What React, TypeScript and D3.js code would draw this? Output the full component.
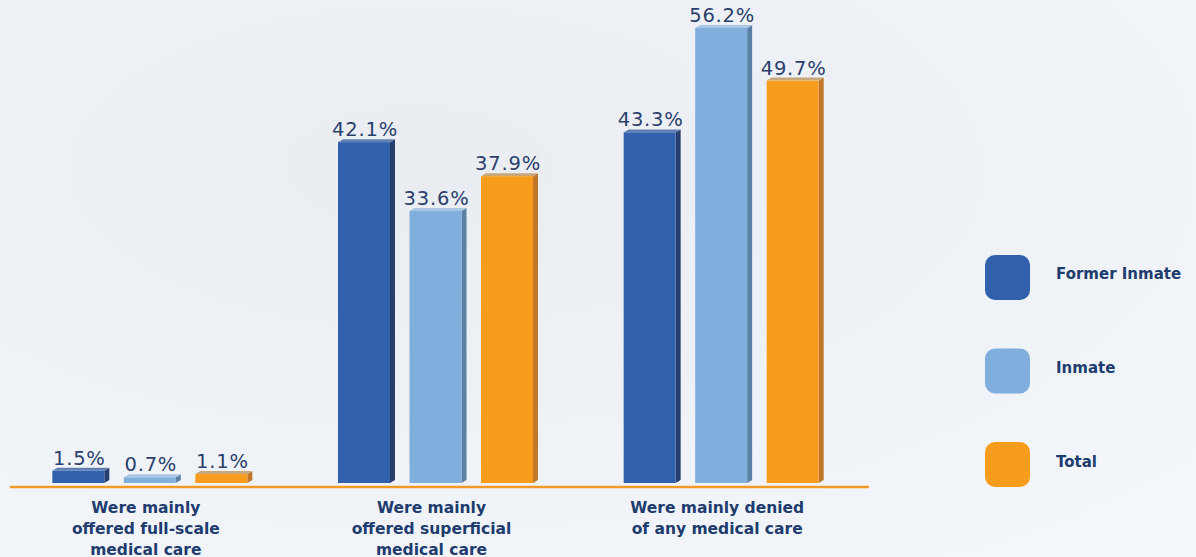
import React from "react";
import * as d3 from "d3";

const categories = [
  ["Were mainly", "offered full-scale", "medical care"],
  ["Were mainly", "offered superficial", "medical care"],
  ["Were mainly denied", "of any medical care"],
];
const series = ["Former Inmate", "Inmate", "Total"];
const formerInmate = [1.5, 42.1, 43.3];
const inmate = [0.7, 33.6, 56.2];
const total = [1.1, 37.9, 49.7];
const seriesValues = [formerInmate, inmate, total];

const frontColors = ["#3160ac", "#80afdd", "#f89c1e"];
const sideColors = ["#263e6c", "#5b80a5", "#c0772a"];
const topColors = ["#5f7fb3", "#a9c7e4", "#c9a77a"];

const W = 1196;
const H = 557;
const baseY = 483;

export default function App() {
  const x0 = d3.scaleBand<number>().domain([0, 1, 2]).range([7, 864]).paddingInner(0).paddingOuter(0);
  const x1 = d3.scaleBand<number>().domain([0, 1, 2]).range([0, 195]).paddingInner(0.273).paddingOuter(0);
  const y = d3.scaleLinear().domain([0, 56.2]).range([baseY, 28]);
  const legendY = d3.scaleBand<number>().domain([0, 1, 2]).range([255, 487]).paddingInner(0.519).paddingOuter(0);
  const bw = x1.bandwidth();
  const depth = 5;
  const topD = 3;

  return (
    <svg width={W} height={H} style={{ position: "absolute", left: 0, top: 0 }}>
      <defs>
        <radialGradient id="bg" cx="0.35" cy="0.3" r="0.9">
          <stop offset="0" stopColor="#e9edf2" />
          <stop offset="0.5" stopColor="#eef2f7" />
          <stop offset="1" stopColor="#f3f7fb" />
        </radialGradient>
      </defs>
      <rect width={W} height={H} fill="url(#bg)" />
      {categories.map((cat, ci) => {
        const gx = (x0(ci) as number) + x0.bandwidth() / 2 - 97.5;
        return (
          <g key={ci}>
            {series.map((s, si) => {
              const v = seriesValues[si][ci];
              const bx = gx + (x1(si) as number);
              const ty = y(v);
              return (
                <g key={si}>
                  <polygon
                    points={`${bx + bw},${ty} ${bx + bw + depth},${ty - topD} ${bx + bw + depth},${baseY - topD} ${bx + bw},${baseY}`}
                    fill={sideColors[si]}
                  />
                  <polygon
                    points={`${bx},${ty} ${bx + depth},${ty - topD} ${bx + bw + depth},${ty - topD} ${bx + bw},${ty}`}
                    fill={topColors[si]}
                  />
                  <rect x={bx} y={ty} width={bw} height={baseY - ty} fill={frontColors[si]} />
                  <text
                    x={bx + bw / 2 + 1}
                    y={ty - 6}
                    textAnchor="middle"
                    fontFamily="'DejaVu Sans'"
                    fontSize={19.5}
                    letterSpacing={0.8}
                    fill="#2b3f6c"
                  >
                    {v.toFixed(1)}%
                  </text>
                </g>
              );
            })}
            <text
              x={(x0(ci) as number) + x0.bandwidth() / 2 - 4}
              textAnchor="middle"
              fontFamily="'DejaVu Sans'"
              fontWeight="bold"
              fontSize={15.5}
              fill="#203c6e"
            >
              {cat.map((line, li) => (
                <tspan key={li} x={(x0(ci) as number) + x0.bandwidth() / 2 - 4} y={513 + li * 21}>
                  {line}
                </tspan>
              ))}
            </text>
          </g>
        );
      })}
      <line x1={10} x2={869} y1={487} y2={487} stroke="#f39a26" strokeWidth={2.5} />
      {series.map((s, si) => {
        const ly = legendY(si) as number;
        const lh = legendY.bandwidth();
        return (
          <g key={s}>
            <rect x={985} y={ly} width={45} height={lh} rx={10} fill={frontColors[si]} />
            <text
              x={1056}
              y={ly + lh / 2 + 2}
              fontFamily="'DejaVu Sans'"
              fontWeight="bold"
              fontSize={15}
              fill="#203c6e"
            >
              {s}
            </text>
          </g>
        );
      })}
    </svg>
  );
}
